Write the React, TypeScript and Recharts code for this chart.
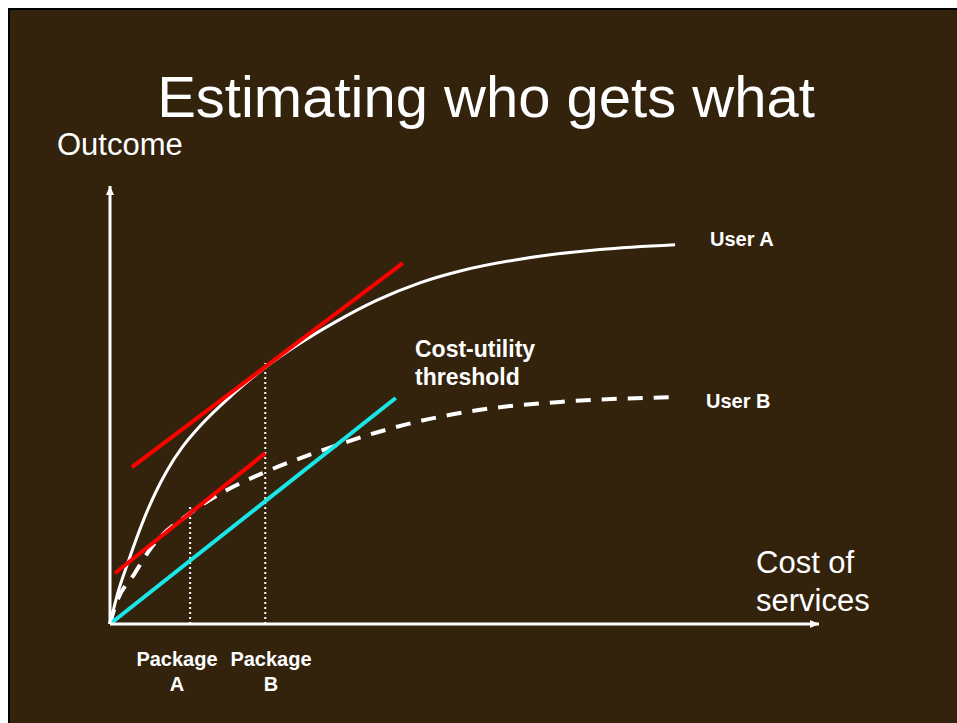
import { ComposedChart, Line, XAxis, YAxis } from "recharts";

const BG = "#33230d";
const INK = "#ffffff";
const FONT = "'Liberation Sans', Arial, sans-serif";

// cost of services (x) against outcome (y), both on a 0-100 scale
const userA = [
  { x: 0, y: 0 },
  { x: 1.1, y: 7.1 },
  { x: 2.5, y: 13.9 },
  { x: 5.2, y: 25.6 },
  { x: 6.6, y: 30.6 },
  { x: 8.0, y: 34.9 },
  { x: 10.3, y: 40.6 },
  { x: 12.7, y: 45.2 },
  { x: 17.3, y: 52.4 },
  { x: 21.9, y: 58.6 },
  { x: 26.8, y: 64.1 },
  { x: 31.5, y: 68.7 },
  { x: 37.6, y: 73.9 },
  { x: 43.7, y: 77.9 },
  { x: 49.4, y: 80.6 },
  { x: 57.8, y: 83.3 },
  { x: 69.1, y: 85.5 },
  { x: 79.7, y: 86.6 },
];

const userB = [
  { x: 0, y: 0 },
  { x: 0.7, y: 3.9 },
  { x: 3.5, y: 11.6 },
  { x: 5.9, y: 17.6 },
  { x: 11.3, y: 25.3 },
  { x: 16.5, y: 30.6 },
  { x: 21.9, y: 34.7 },
  { x: 30.0, y: 39.7 },
  { x: 42.6, y: 45.9 },
  { x: 52.2, y: 48.9 },
  { x: 63.5, y: 50.7 },
  { x: 79.7, y: 51.8 },
];

const tangentA = [
  { x: 3.1, y: 35.8 },
  { x: 41.3, y: 82.4 },
];

const tangentB = [
  { x: 0.7, y: 11.6 },
  { x: 21.9, y: 39.0 },
];

const threshold = [
  { x: 0, y: 0 },
  { x: 40.3, y: 51.6 },
];

const packageA = [
  { x: 11.3, y: 0 },
  { x: 11.3, y: 26.9 },
];

const packageB = [
  { x: 21.9, y: 0 },
  { x: 21.9, y: 59.6 },
];

const W = 947;
const H = 713;

export default function App() {
  return (
    <div style={{ position: "fixed", left: 0, top: 0, width: 957, height: 723, background: "#ffffff" }}>
      <div
        style={{
          position: "absolute",
          left: 8,
          top: 8,
          width: 949,
          height: 715,
          boxSizing: "border-box",
          background: BG,
          borderLeft: "2px solid #000",
          borderTop: "2px solid #000",
          overflow: "hidden",
        }}
      >
        <div style={{ position: "absolute", left: 0, top: 0 }}>
          <ComposedChart width={W} height={H} margin={{ top: 176, right: 138, bottom: 79, left: 80 }}>
            <defs>
              <marker
                id="arrowHead"
                viewBox="0 0 9 8"
                refX={9}
                refY={4}
                markerWidth={9}
                markerHeight={8}
                markerUnits="userSpaceOnUse"
                orient="auto-start-reverse"
              >
                <path d="M0,0 L9,4 L0,8 z" fill={INK} />
              </marker>
            </defs>
            <XAxis
              type="number"
              dataKey="x"
              domain={[0, 100]}
              height={20}
              tick={false}
              tickLine={false}
              axisLine={{ stroke: INK, strokeWidth: 3, markerEnd: "url(#arrowHead)" }}
            />
            <YAxis
              type="number"
              domain={[0, 100]}
              width={20}
              tick={false}
              tickLine={false}
              axisLine={{ stroke: INK, strokeWidth: 3, markerStart: "url(#arrowHead)" }}
            />
            <Line data={packageA} dataKey="y" type="linear" stroke={INK} strokeWidth={2} strokeDasharray="2 3" dot={false} isAnimationActive={false} />
            <Line data={packageB} dataKey="y" type="linear" stroke={INK} strokeWidth={2} strokeDasharray="2 3" dot={false} isAnimationActive={false} />
            <Line data={userB} dataKey="y" type="monotone" stroke={INK} strokeWidth={4} strokeDasharray="15 11" dot={false} isAnimationActive={false} />
            <Line data={userA} dataKey="y" type="monotone" stroke={INK} strokeWidth={3} dot={false} isAnimationActive={false} />
            <Line data={threshold} dataKey="y" type="linear" stroke="#19e6e6" strokeWidth={4} dot={false} isAnimationActive={false} />
            <Line data={tangentA} dataKey="y" type="linear" stroke="#ff0000" strokeWidth={4} dot={false} isAnimationActive={false} />
            <Line data={tangentB} dataKey="y" type="linear" stroke="#ff0000" strokeWidth={4} dot={false} isAnimationActive={false} />
          </ComposedChart>
        </div>
        <svg width={W} height={H} style={{ position: "absolute", left: 0, top: 0, pointerEvents: "none" }} fontFamily={FONT} fill={INK}>
          <text x={476} y={107} fontSize={58} textAnchor="middle">Estimating who gets what</text>
          <text x={47} y={145} fontSize={31}>Outcome</text>
          <text x={746} y={563} fontSize={31}>Cost of</text>
          <text x={746} y={601} fontSize={31}>services</text>
          <text x={700} y={236} fontSize={20} fontWeight="bold">User A</text>
          <text x={696} y={398} fontSize={20} fontWeight="bold">User B</text>
          <text x={405} y={347} fontSize={23} fontWeight="bold">Cost-utility</text>
          <text x={405} y={375} fontSize={23} fontWeight="bold">threshold</text>
          <text x={167} y={656} fontSize={20} fontWeight="bold" textAnchor="middle">Package</text>
          <text x={167} y={681} fontSize={20} fontWeight="bold" textAnchor="middle">A</text>
          <text x={261} y={656} fontSize={20} fontWeight="bold" textAnchor="middle">Package</text>
          <text x={261} y={681} fontSize={20} fontWeight="bold" textAnchor="middle">B</text>
        </svg>
      </div>
    </div>
  );
}
